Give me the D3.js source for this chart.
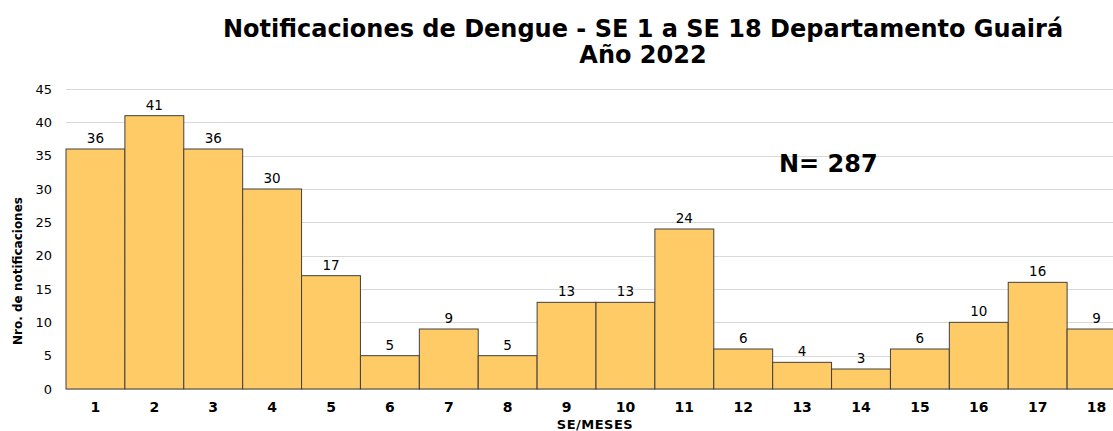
<!DOCTYPE html>
<html>
<head>
<meta charset="utf-8">
<script src="https://cdn.jsdelivr.net/npm/d3@7"></script>
<style>
  body { margin: 0; background: #fff; }
  svg { display: block; font-family: "DejaVu Sans", Verdana, sans-serif; }
</style>
</head>
<body>
<div id="chart"></div>
<script>
var width = 1113;
var height = 431;

// semanas epidemiologicas y notificaciones
var semanas = ["1","2","3","4","5","6","7","8","9","10","11","12","13","14","15","16","17","18"];
var casos = [36, 41, 36, 30, 17, 5, 9, 5, 13, 13, 24, 6, 4, 3, 6, 10, 16, 9];
var yTicks = [0, 5, 10, 15, 20, 25, 30, 35, 40, 45];
var titulo = ["Notificaciones de Dengue - SE 1 a SE 18 Departamento Guairá", "Año 2022"];
var total = "N= 287";

var margin = {top: 89, left: 66, bottom: 42};
var plotW = 1060; // the right edge runs past the picture
var plotH = height - margin.top - margin.bottom;

var svg = d3.select('#chart').append('svg')
    .attr('width', width)
    .attr('height', height);

var x = d3.scaleBand().domain(semanas).range([0, plotW]).padding(0);
var y = d3.scaleLinear().domain([0, 45]).range([plotH, 0]);

var g = svg.append('g')
    .attr('transform', 'translate(' + margin.left + ',' + margin.top + ')');

// grid lines
g.append('g')
    .selectAll('line')
    .data(yTicks)
    .enter().append('line')
      .attr('x1', 0)
      .attr('x2', plotW)
      .attr('y1', function(d) { return Math.round(y(d)) + 0.5; })
      .attr('y2', function(d) { return Math.round(y(d)) + 0.5; })
      .attr('stroke', '#d9d9d9')
      .attr('stroke-width', 1);

// y axis labels
var yAxis = g.append('g')
    .call(d3.axisLeft(y).tickValues(yTicks).tickSize(0).tickPadding(14));
yAxis.select('.domain').remove();
yAxis.selectAll('text')
    .style('font-size', '13px')
    .attr('fill', '#000')
    .style('font-family', '"DejaVu Sans", Verdana, sans-serif');

// bars
g.selectAll('.bar')
    .data(casos)
    .enter().append('rect')
      .attr('class', 'bar')
      .attr('x', function(d, i) { return x(semanas[i]); })
      .attr('y', function(d) { return y(d); })
      .attr('width', x.bandwidth())
      .attr('height', function(d) { return plotH - y(d); })
      .attr('fill', '#fecb66')
      .attr('stroke', '#404040')
      .attr('stroke-width', 1);

// value labels
g.selectAll('.val')
    .data(casos)
    .enter().append('text')
      .attr('class', 'val')
      .attr('x', function(d, i) { return x(semanas[i]) + x.bandwidth() / 2; })
      .attr('y', function(d) { return y(d) - 6; })
      .attr('text-anchor', 'middle')
      .style('font-size', '13.5px')
      .text(function(d) { return d; });

// x axis labels
var xAxis = g.append('g')
    .attr('transform', 'translate(0,' + plotH + ')')
    .call(d3.axisBottom(x).tickSize(0));
xAxis.select('.domain').remove();
xAxis.selectAll('text')
    .attr('y', 23)
    .attr('dy', null)
    .style('font-size', '14px')
    .style('font-weight', 'bold')
    .attr('fill', '#000')
    .style('font-family', '"DejaVu Sans", Verdana, sans-serif');

// axis titles
svg.append('text')
    .attr('x', 595)
    .attr('y', 429)
    .attr('text-anchor', 'middle')
    .style('font-size', '13px')
    .style('font-weight', 'bold')
    .style('letter-spacing', '0.5px')
    .text('SE/MESES');

svg.append('text')
    .attr('transform', 'translate(22,' + 271 + ') rotate(-90)')
    .attr('text-anchor', 'middle')
    .style('font-size', '12px')
    .style('font-weight', 'bold')
    .text('Nro. de notificaciones');

// title
svg.selectAll('.title')
    .data(titulo)
    .enter().append('text')
      .attr('class', 'title')
      .attr('x', 643)
      .attr('y', function(d, i) { return 37 + i * 26; })
      .attr('text-anchor', 'middle')
      .style('font-size', '24px')
      .style('font-weight', 'bold')
      .text(function(d) { return d; });

// total
svg.append('text')
    .attr('x', 779)
    .attr('y', 172)
    .style('font-size', '24px')
    .style('font-weight', 'bold')
    .text(total);
</script>
</body>
</html>
